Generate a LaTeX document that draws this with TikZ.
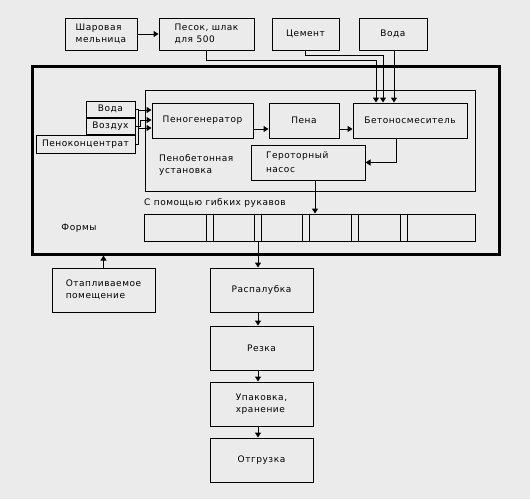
\documentclass[tikz,border=0pt]{standalone}
\usepackage{fontspec}
\setmainfont[LetterSpace=6]{DejaVu Sans}
\usetikzlibrary{arrows.meta}
\definecolor{bgcol}{RGB}{235,235,235}

\begin{document}
\begin{tikzpicture}[x=1pt,y=-1pt,
        font=\fontsize{9}{12.5}\selectfont,inner sep=2pt,
        box/.style={draw,line width=1pt,rectangle,align=left},
        arr/.style={draw,line width=1pt,-{Triangle[length=5pt,width=6pt]}},
        ln/.style={line width=1pt}]

    \fill[bgcol] (0,0) rectangle (530,499);
    \useasboundingbox (0,0) rectangle (530,499);

    % raw materials
    \node[box,minimum width=72,minimum height=32] (mill) at (101,34) {Шаровая\\мельница};
    \node[box,minimum width=95,minimum height=32] (sand) at (206.5,34) {Песок, шлак\\для 500};
    \node[box,minimum width=67,minimum height=32] (cem) at (305.5,34) {Цемент};
    \node[box,minimum width=68,minimum height=32] (water) at (393,34) {Вода};

    % forms area and foam concrete unit
    \node[draw,line width=3pt,minimum width=467,minimum height=188] (frame) at (265.5,160) {};
    \node[box,minimum width=330,minimum height=101] (inst) at (310,140.5) {};
    \node[box,minimum width=101,minimum height=35] (gen) at (202.5,120.5) {Пеногенератор};
    \node[box,minimum width=70,minimum height=35] (foam) at (304,120.5) {Пена};
    \node[box,minimum width=114,minimum height=35] (mix) at (410,120.5) {Бетоносмеситель};
    \node[box,minimum width=114,minimum height=35,text width=84,font=\fontsize{9}{14}\selectfont] (pump) at (308,162.5) {Героторный\\насос};
    \node[anchor=west,align=left] (instlbl) at (157,165) {Пенобетонная\\установка};
    \node[anchor=west] (hose) at (142,203) {С помощью гибких рукавов};
    \node (formlbl) at (79,228) {Формы};
    \node[box,minimum width=331,minimum height=27] (strip) at (309.5,227.5) {};
    \foreach \x in {206,254,302,351,400}{
        \draw[ln] (strip.north -| \x,0) -- (strip.south -| \x,0);
        \draw[ln] (strip.north -| \x+7,0) -- (strip.south -| \x+7,0);
    }

    % foam agent inputs
    \node[box,minimum width=49,minimum height=16,inner sep=1pt] (inw) at (110.5,109) {Вода};
    \node[box,minimum width=49,minimum height=16,inner sep=1pt] (inair) at (110.5,126) {Воздух};
    \node[box,minimum width=99,minimum height=18,inner sep=1pt] (inconc) at (85.5,144) {Пеноконцентрат};

    % below the frame
    \node[box,minimum width=103,minimum height=44] (heat) at (103.5,290) {Отапливаемое\\помещение};
    \node[box,minimum width=103,minimum height=44] (dis) at (261.5,290) {Распалубка};
    \node[box,minimum width=103,minimum height=44] (cut) at (261.5,348) {Резка};
    \node[box,minimum width=103,minimum height=44] (pack) at (261.5,404) {Упаковка,\\хранение};
    \node[box,minimum width=103,minimum height=44] (ship) at (261.5,460) {Отгрузка};

    % connectors
    \draw[arr] (mill) -- (sand);
    \draw[arr] (sand.south) -- ++(0,10) -| ([xshift=-34]mix.north);
    \draw[arr] (cem.south) -- ++(0,5) -| ([xshift=-27]mix.north);
    \draw[arr] ([xshift=1]water.south) -- ([xshift=-16]mix.north);
    \draw[arr] ([yshift=-8.5]gen.east) -- ([yshift=-8.5]foam.west);
    \draw[arr] ([yshift=-8.5]foam.east) -- ([yshift=-8.5]mix.west);
    \draw[arr] ([xshift=-14]mix.south) |- (pump.east);
    \draw[arr] ([xshift=7]pump.south) -- ([xshift=7]pump.south |- strip.north);
    \draw[arr] (inw.east) -- ++(3,0) |- ([yshift=-7.5]gen.west);
    \draw[arr] (inair.east) -- ++(5,0) |- ([yshift=0.5]gen.west);
    \draw[arr] (inconc.east) -- ++(3,0) |- ([yshift=10.5]gen.west);
    \draw[arr] (heat.north) -- (heat.north |- frame.south);
    \draw[arr] ([xshift=-3.5]dis.north |- strip.south) -- ([xshift=-3.5]dis.north);
    \draw[arr] ([xshift=-3.5]dis.south) -- ([xshift=-3.5]cut.north);
    \draw[arr] ([xshift=-3.5]cut.south) -- ([xshift=-3.5]pack.north);
    \draw[arr] ([xshift=-3.5]pack.south) -- ([xshift=-3.5]ship.north);
\end{tikzpicture}
\end{document}
